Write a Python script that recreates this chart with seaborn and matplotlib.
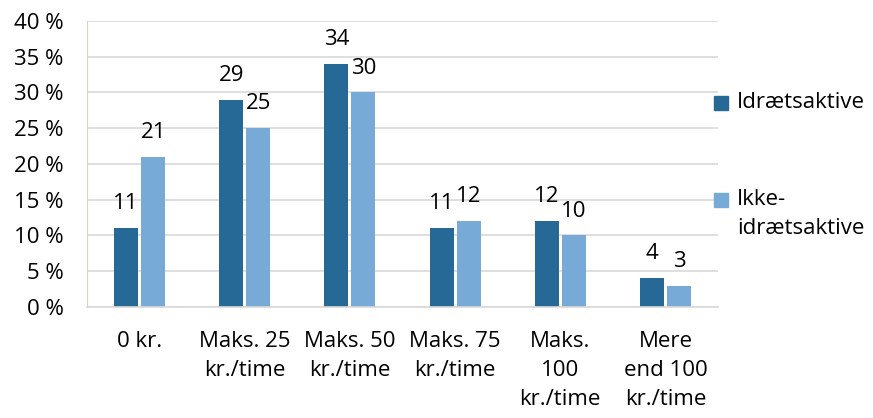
import matplotlib
matplotlib.use('Agg')
import matplotlib.pyplot as plt
import matplotlib.patches as mpatches
import pandas as pd
import seaborn as sns

# data
categories = ['0 kr.', 'Maks. 25\nkr./time', 'Maks. 50\nkr./time', 'Maks. 75\nkr./time',
              'Maks.\n100\nkr./time', 'Mere\nend 100\nkr./time']
series_names = ['Idrætsaktive', 'Ikke-\nidrætsaktive']
aktive = [11, 29, 34, 11, 12, 4]
ikke_aktive = [21, 25, 30, 12, 10, 3]
y_ticks = [0, 5, 10, 15, 20, 25, 30, 35, 40]

colors = ['#276996', '#78AAD7']

df = pd.DataFrame({
    'kategori': categories * 2,
    'gruppe': [series_names[0]] * 6 + [series_names[1]] * 6,
    'pct': aktive + ikke_aktive,
})

sns.set_style('white')
plt.rcParams['font.family'] = ['Open Sans', 'DejaVu Sans']
plt.rcParams['text.color'] = 'black'
FS = 16

fig = plt.figure(figsize=(8.73, 4.18), dpi=100)
ax = fig.add_axes([0.0997, 0.2656, 0.7228, 0.6842])

sns.barplot(data=df, x='kategori', y='pct', hue='gruppe', palette=colors,
            width=0.514, gap=0.11, ax=ax, legend=False, saturation=1, linewidth=0)

ax.set_ylim(0, 40)
ax.set_xlim(-0.5, 5.5)
ax.set_yticks(y_ticks)
ax.set_yticklabels([f'{t} %' for t in y_ticks], fontsize=FS, color='black')
ax.tick_params(axis='y', length=0, pad=17)
ax.tick_params(axis='x', length=0, pad=17, labelsize=FS, labelcolor='black')
for lbl in ax.get_xticklabels():
    lbl.set_linespacing(1.52)
ax.set_xlabel('')
ax.set_ylabel('')
ax.yaxis.grid(True, color='#D9D9D9', linewidth=1.2)
ax.set_axisbelow(True)
for s in ['top', 'right']:
    ax.spines[s].set_visible(False)
ax.spines['left'].set_color('#D6D6C2')
ax.spines['bottom'].set_color('#D9D9D9')
ax.spines['bottom'].set_linewidth(1.2)

for cont in ax.containers:
    for bar in cont:
        h = bar.get_height()
        ax.annotate(f'{h:.0f}', (bar.get_x() + bar.get_width() / 2, h),
                    xytext=(0, 10), textcoords='offset points',
                    ha='center', va='bottom', fontsize=FS)

# legend on the right
leg_y = [103, 200]
for name, col, y in zip(series_names, colors, leg_y):
    yf = 1 - y / 418
    fig.patches.append(mpatches.Rectangle((714 / 873, yf - 7 / 418), 14 / 873, 14 / 418,
                                          transform=fig.transFigure, color=col))
    fig.text(737 / 873, yf + 11 / 418, name, fontsize=FS, va='top', ha='left',
             linespacing=1.52)

fig.savefig('out.png', dpi=100)
